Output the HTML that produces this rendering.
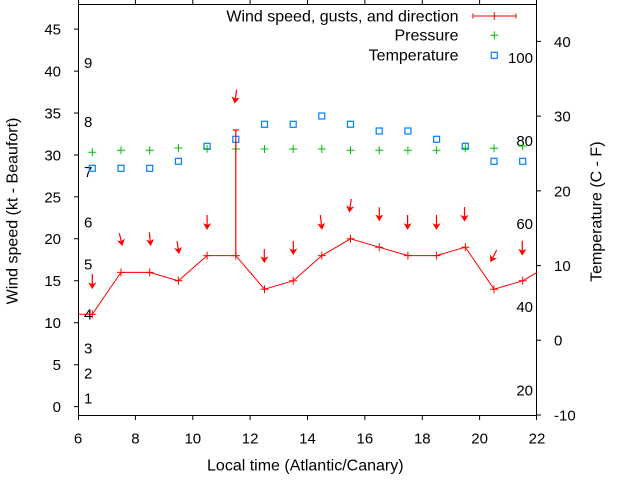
<!DOCTYPE html>
<html>
<head>
<meta charset="utf-8">
<style>
  html,body{margin:0;padding:0;background:#fff;}
  svg{display:block;}
  text{font-family:"Liberation Sans", Arial, sans-serif; fill:#000;}
  .t{font-size:15px;}
  .l{font-size:16px;}
</style>
</head>
<body>
<svg width="640" height="480" viewBox="0 0 640 480" xmlns="http://www.w3.org/2000/svg">
  <rect x="0" y="0" width="640" height="480" fill="#fff"/>

  <!-- border -->
  <rect x="78.5" y="4.5" width="458" height="411" fill="none" stroke="#000" stroke-width="1"/>

  <!-- ticks -->
  <path stroke="#000" stroke-width="1" fill="none" d="
    M74 406.6H78 M74 364.7H78 M74 322.7H78 M74 280.8H78 M74 238.8H78
    M74 196.9H78 M74 155H78 M74 113H78 M74 71.1H78 M74 29.1H78
    M537 415H541 M537 340.3H541 M537 265.6H541 M537 190.9H541 M537 116.1H541 M537 41.4H541
    M78.5 415V420 M135.4 415V420 M192.8 415V420 M250.1 415V420 M307.5 415V420 M364.9 415V420 M422.3 415V420 M479.6 415V420 M536.5 415V420
    M78.5 0V4 M135.4 0V4 M192.8 0V4 M250.1 0V4 M307.5 0V4 M364.9 0V4 M422.3 0V4 M479.6 0V4 M536.5 0V4
  "/>

  <!-- left tick labels -->
  <g class="t" text-anchor="end">
    <text x="61" y="412">0</text>
    <text x="61" y="370.1">5</text>
    <text x="61" y="328.1">10</text>
    <text x="61" y="286.2">15</text>
    <text x="61" y="244.2">20</text>
    <text x="61" y="202.3">25</text>
    <text x="61" y="160.4">30</text>
    <text x="61" y="118.4">35</text>
    <text x="61" y="76.5">40</text>
    <text x="61" y="34.5">45</text>
  </g>

  <!-- bottom tick labels -->
  <g class="t" text-anchor="middle">
    <text x="78" y="443.5">6</text>
    <text x="135.4" y="443.5">8</text>
    <text x="192.8" y="443.5">10</text>
    <text x="250.1" y="443.5">12</text>
    <text x="307.5" y="443.5">14</text>
    <text x="364.9" y="443.5">16</text>
    <text x="422.3" y="443.5">18</text>
    <text x="479.6" y="443.5">20</text>
    <text x="537" y="443.5">22</text>
  </g>

  <!-- right tick labels -->
  <g class="t">
    <text x="554" y="420.4">-10</text>
    <text x="554" y="345.7">0</text>
    <text x="554" y="271">10</text>
    <text x="554" y="196.3">20</text>
    <text x="554" y="121.5">30</text>
    <text x="554" y="46.8">40</text>
  </g>

  <!-- Beaufort labels -->
  <g class="t">
    <text x="84" y="403.6">1</text>
    <text x="84" y="378.4">2</text>
    <text x="84" y="353.3">3</text>
    <text x="84" y="319.7">4</text>
    <text x="84" y="269.4">5</text>
    <text x="84" y="227.4">6</text>
    <text x="84" y="177.1">7</text>
    <text x="84" y="126.8">8</text>
    <text x="84" y="68.1">9</text>
  </g>

  <!-- Fahrenheit labels -->
  <g class="t" text-anchor="end">
    <text x="533" y="63.2">100</text>
    <text x="533" y="146.2">80</text>
    <text x="533" y="229.2">60</text>
    <text x="533" y="312.2">40</text>
    <text x="533" y="395.3">20</text>
  </g>

  <!-- axis labels -->
  <text class="l" text-anchor="middle" transform="translate(17.5,211) rotate(-90)">Wind speed (kt - Beaufort)</text>
  <text class="l" text-anchor="middle" transform="translate(601.5,211.7) rotate(-90)">Temperature (C - F)</text>
  <text class="l" text-anchor="middle" x="305.3" y="470.7">Local time (Atlantic/Canary)</text>

  <!-- legend -->
  <g class="l" text-anchor="end">
    <text x="458.5" y="21.7">Wind speed, gusts, and direction</text>
    <text x="458.5" y="40.7">Pressure</text>
    <text x="458.5" y="60.3">Temperature</text>
  </g>
  <path stroke="#ff0000" stroke-width="1" fill="none" d="M473 16H516 M473 13.5V18.5 M516 13.5V18.5 M490.3 16H498.3 M494.3 12V20"/>
  <path stroke="#00c000" stroke-width="1" fill="none" d="M490.3 35.3H498.3 M494.3 31.3V39.3"/>
  <rect x="491.3" y="52.3" width="6" height="6" fill="none" stroke="#0080ff" stroke-width="1.2"/>

  <!-- temperature squares -->
  <g fill="none" stroke="#0080ff" stroke-width="1.2">
    <rect x="89.3" y="165.3" width="6" height="6"/>
    <rect x="118" y="165.3" width="6" height="6"/>
    <rect x="146.7" y="165.3" width="6" height="6"/>
    <rect x="175.4" y="158.3" width="6" height="6"/>
    <rect x="204.1" y="143.3" width="6" height="6"/>
    <rect x="232.8" y="136.3" width="6" height="6"/>
    <rect x="261.5" y="121.3" width="6" height="6"/>
    <rect x="290.2" y="121.3" width="6" height="6"/>
    <rect x="318.8" y="113" width="6" height="6"/>
    <rect x="347.5" y="121.3" width="6" height="6"/>
    <rect x="376.2" y="128" width="6" height="6"/>
    <rect x="404.9" y="128" width="6" height="6"/>
    <rect x="433.6" y="136.3" width="6" height="6"/>
    <rect x="462.3" y="143.3" width="6" height="6"/>
    <rect x="491" y="158.3" width="6" height="6"/>
    <rect x="519.7" y="158.3" width="6" height="6"/>
  </g>

  <!-- pressure pluses -->
  <path stroke="#00c000" stroke-width="1" fill="none" d="
    M88.3 152.3h8M92.3 148.3v8
    M117 150.3h8M121 146.3v8
    M145.7 150.3h8M149.7 146.3v8
    M174.4 148h8M178.4 144v8
    M203.1 148.7h8M207.1 144.7v8
    M231.8 149h8M235.8 145v8
    M260.5 149h8M264.5 145v8
    M289.2 149h8M293.2 145v8
    M317.8 149h8M321.8 145v8
    M346.5 150.3h8M350.5 146.3v8
    M375.2 150.3h8M379.2 146.3v8
    M403.9 150.3h8M407.9 146.3v8
    M432.6 150.3h8M436.6 146.3v8
    M461.3 148.3h8M465.3 144.3v8
    M490 148.3h8M494 144.3v8
    M518.7 146h8M522.7 142v8
  "/>

  <!-- wind line -->
  <polyline fill="none" stroke="#ff0000" stroke-width="1" points="78,314.3 92.3,314.3 121,272.4 149.7,272.4 178.4,280.8 207.1,255.6 235.8,255.6 264.5,289.2 293.2,280.8 321.8,255.6 350.5,238.8 379.2,247.2 407.9,255.6 436.6,255.6 465.3,247.2 494,289.2 522.7,280.8 537,272.4"/>
  <!-- gust errorbar -->
  <path stroke="#ff0000" stroke-width="1.2" fill="none" d="M235.8 255.6V130 M232.8 130H238.8"/>
  <!-- wind markers -->
  <path stroke="#ff0000" stroke-width="1" fill="none" d="
    M88.3 314.3h8M92.3 310.3v8
    M117 272.4h8M121 268.4v8
    M145.7 272.4h8M149.7 268.4v8
    M174.4 280.8h8M178.4 276.8v8
    M203.1 255.6h8M207.1 251.6v8
    M231.8 255.6h8M235.8 251.6v8
    M260.5 289.2h8M264.5 285.2v8
    M289.2 280.8h8M293.2 276.8v8
    M317.8 255.6h8M321.8 251.6v8
    M346.5 238.8h8M350.5 234.8v8
    M375.2 247.2h8M379.2 243.2v8
    M403.9 255.6h8M407.9 251.6v8
    M432.6 255.6h8M436.6 251.6v8
    M461.3 247.2h8M465.3 243.2v8
    M490 289.2h8M494 285.2v8
    M518.7 280.8h8M522.7 276.8v8
  "/>

  <!-- wind direction arrows -->
  <defs>
    <g id="ah">
      <polygon points="0,0 -3.3,-5.5 0,-4 3.3,-5.5" fill="#ff0000" stroke="#ff0000" stroke-width="0.6"/>
    </g>
  </defs>
  <g stroke="#ff0000" stroke-width="1.2" fill="none">
    <g transform="translate(92.3,288.5)"><line x1="0" y1="-14.5" x2="0" y2="-1"/><use href="#ah"/></g>
    <g transform="translate(122.3,245.5) rotate(-13.8)"><line x1="0" y1="-12.6" x2="0" y2="-1"/><use href="#ah"/></g>
    <g transform="translate(150.7,245.5) rotate(-6.1)"><line x1="0" y1="-13.3" x2="0" y2="-1"/><use href="#ah"/></g>
    <g transform="translate(179,253.5) rotate(-9.3)"><line x1="0" y1="-12.4" x2="0" y2="-1"/><use href="#ah"/></g>
    <g transform="translate(207.1,229.3)"><line x1="0" y1="-14.3" x2="0" y2="-1"/><use href="#ah"/></g>
    <g transform="translate(234.7,103) rotate(8.4)"><line x1="0" y1="-13.6" x2="0" y2="-1"/><use href="#ah"/></g>
    <g transform="translate(264.3,262.5)"><line x1="0" y1="-13.5" x2="0" y2="-1"/><use href="#ah"/></g>
    <g transform="translate(293.3,254.5)"><line x1="0" y1="-13.5" x2="0" y2="-1"/><use href="#ah"/></g>
    <g transform="translate(322,229.3) rotate(-6.8)"><line x1="0" y1="-14.4" x2="0" y2="-1"/><use href="#ah"/></g>
    <g transform="translate(349.3,212) rotate(8.7)"><line x1="0" y1="-13.2" x2="0" y2="-1"/><use href="#ah"/></g>
    <g transform="translate(379.3,220.7)"><line x1="0" y1="-13.4" x2="0" y2="-1"/><use href="#ah"/></g>
    <g transform="translate(407.6,229.3)"><line x1="0" y1="-14.3" x2="0" y2="-1"/><use href="#ah"/></g>
    <g transform="translate(436.5,229.3)"><line x1="0" y1="-14.3" x2="0" y2="-1"/><use href="#ah"/></g>
    <g transform="translate(464.5,221)"><line x1="0" y1="-14" x2="0" y2="-1"/><use href="#ah"/></g>
    <g transform="translate(490.7,261.7) rotate(27.1)"><line x1="0" y1="-13.1" x2="0" y2="-1"/><use href="#ah"/></g>
    <g transform="translate(522.3,255)"><line x1="0" y1="-14.3" x2="0" y2="-1"/><use href="#ah"/></g>
  </g>
</svg>
</body>
</html>
